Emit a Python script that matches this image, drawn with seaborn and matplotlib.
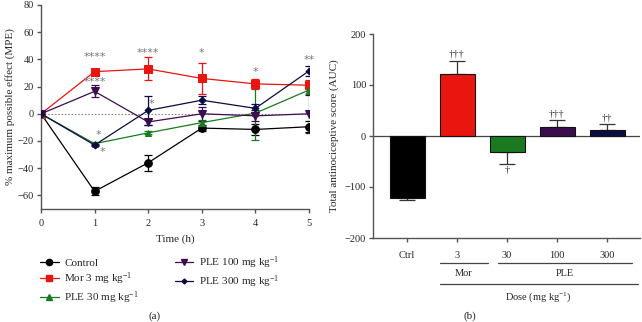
import matplotlib
matplotlib.use("Agg")
import matplotlib.pyplot as plt
import seaborn as sns
import numpy as np
import pandas as pd

sns.set_style("ticks")
plt.rcParams['font.family'] = ['Liberation Serif', 'DejaVu Serif']
plt.rcParams['mathtext.fontset'] = 'custom'
plt.rcParams['mathtext.rm'] = 'Liberation Serif'
plt.rcParams['mathtext.it'] = 'Liberation Serif:italic'

# ---- data panel (a) ----
time_h = [0, 1, 2, 3, 4, 5]
series_names = ["Control", "Mor 3 mg kg$^{-1}$", "PLE 30 mg kg$^{-1}$",
                "PLE 100 mg kg$^{-1}$", "PLE 300 mg kg$^{-1}$"]
control = [0, -57, -36, -10.5, -11.5, -9.5]
control_err = [0, 3, 6, 2.5, 4, 4]
mor = [0, 31, 33, 26, 22, 21]
mor_err = [0, 1.5, 8.5, 11.5, 3.5, 4]
ple30 = [0, -22, -14, -6.5, 0.5, 17.5]
ple30_err = [0, 1, 1, 2, 20, 3]
ple100 = [0, 16.5, -6, 0, -1.5, 0]
ple100_err = [0, 4.5, 2.5, 5, 4, 14]
ple300 = [0, -23, 2.5, 10, 4, 31.5]
ple300_err = [0, 1, 10.5, 3, 3, 4]

# significance labels (text, time, y)
sig_text = ["****", "****", "****", "*", "*", "**", "*", "*", "*"]
sig_x = [1.0, 1.0, 2.0, 3.0, 4.0, 5.0, 2.06, 1.07, 1.15]
sig_y = [41.5, 23.5, 45, 44.5, 30.5, 39.5, 7, -15.5, -28]

# ---- data panel (b) ----
groups = ["Ctrl", "3", "30", "100", "300"]
auc = [-122, 122, -31, 17, 11]
auc_err = [4, 26, 24, 15, 12]
dagger_text = ["", "†††", "†", "†††", "††"]

colors = ["#000000", "#e8160f", "#1b7a1f", "#3b0d4f", "#0c0c45"]
markers = ["o", "s", "^", "v", "D"]
msizes = [5.5, 5.5, 5, 5.5, 3.5]

fig = plt.figure(figsize=(6.42, 3.22), dpi=100)
W, H = 642, 322
axA = fig.add_axes([41 / W, 1 - 209 / H, (309 - 41) / W, (209 - 5) / H])
axB = fig.add_axes([373 / W, 1 - 238 / H, (640 - 373) / W, (238 - 34) / H])

spine_col = "#555555"
for ax in (axA, axB):
    for s in ("top", "right"):
        ax.spines[s].set_visible(False)
    for s in ("left", "bottom"):
        ax.spines[s].set_color(spine_col)
        ax.spines[s].set_linewidth(1.0)
    ax.tick_params(axis="both", direction="out", length=3, width=1.0,
                   color=spine_col, labelsize=7.5, pad=2)

# panel (a)
vals = [control, mor, ple30, ple100, ple300]
errs = [control_err, mor_err, ple30_err, ple100_err, ple300_err]
axA.axhline(0, color="#888888", lw=0.8, ls=(0, (1.5, 1.5)), zorder=0)
handles = []
for name, v, e, c, m, ms in zip(series_names, vals, errs, colors, markers, msizes):
    df = pd.DataFrame({"t": time_h, "v": v})
    axA.errorbar(time_h, v, yerr=e, fmt="none", ecolor=c, elinewidth=0.9,
                 capsize=3, capthick=0.9, zorder=2)
    sns.lineplot(data=df, x="t", y="v", ax=axA, color=c, marker=m,
                 markersize=ms, markeredgecolor=c, linewidth=0.9, zorder=3)
    handles.append(plt.Line2D([], [], color=c, marker=m, markersize=ms - 1,
                              markeredgecolor=c, lw=0.9, label=name))
for t, x, y in zip(sig_text, sig_x, sig_y):
    axA.text(x, y, t, ha="center", va="center", fontsize=8, color="#777777",
             family="DejaVu Sans")
axA.set_xlim(0, 5)
axA.set_ylim(-70, 80)
axA.set_xticks(time_h)
axA.set_yticks([-60, -40, -20, 0, 20, 40, 60, 80])
axA.tick_params(axis="x", pad=4)
axA.set_xlabel("Time (h)", fontsize=8, labelpad=5)
axA.set_ylabel("% maximum possible effect (MPE)", fontsize=8, labelpad=2)
axA.set_yticklabels(["\u221260", "\u221240", "\u221220", "0", "20", "40", "60", "80"])

fig.legend(handles=handles, ncol=2, loc="upper left",
           bbox_to_anchor=(40 / W, 1 - 254 / H), frameon=False, fontsize=8,
           handlelength=1.7, handletextpad=0.5, columnspacing=3.2,
           labelspacing=0.25, borderaxespad=0, borderpad=0)

# panel (b)
dfb = pd.DataFrame({"g": groups, "auc": auc})
sns.barplot(data=dfb, x="g", y="auc", hue="g", palette=colors, ax=axB,
            width=0.7, edgecolor="#111111", linewidth=0.8, legend=False,
            errorbar=None, saturation=1, zorder=2)
xs = np.arange(len(groups))
for x, v, e, c, d in zip(xs, auc, auc_err, colors, dagger_text):
    lo = [0 if v > 0 else e]
    hi = [e if v > 0 else 0]
    axB.errorbar([x], [v], yerr=[lo, hi], fmt="none", ecolor="#333333",
                 elinewidth=0.9, capsize=6, capthick=0.9, zorder=1)
    if d:
        if v > 0:
            axB.text(x, v + e + 3, d, ha="center", va="bottom", fontsize=7.5,
                     color="#333333")
        else:
            axB.text(x, v - e - 3, d, ha="center", va="top", fontsize=7.5,
                     color="#333333")
axB.axhline(0, color="#444444", lw=0.9, zorder=1)
axB.set_xlim(-0.68, 4.66)
axB.set_ylim(-200, 200)
axB.set_yticks([-200, -100, 0, 100, 200])
axB.set_yticklabels(["\u2212200", "\u2212100", "0", "100", "200"])
axB.set_xlabel("")
axB.set_ylabel("Total antinociceptive score (AUC)", fontsize=8, labelpad=4)
axB.tick_params(axis="x", pad=6)

# group lines under panel (b)
def fx(px):
    return px / W
def fy(py):
    return 1 - py / H
lc = "#444444"
fig.add_artist(plt.Line2D([fx(440), fx(488)], [fy(263), fy(263)], color=lc, lw=0.9))
fig.add_artist(plt.Line2D([fx(498), fx(632)], [fy(263), fy(263)], color=lc, lw=0.9))
fig.add_artist(plt.Line2D([fx(440), fx(638)], [fy(284), fy(284)], color=lc, lw=0.9))
fig.text(fx(464), fy(273), "Mor", ha="center", va="center", fontsize=7.5)
fig.text(fx(565), fy(273), "PLE", ha="center", va="center", fontsize=7.5)
fig.text(fx(538), fy(297), "Dose (mg kg$^{-1}$)", ha="center", va="center", fontsize=7.5)
fig.text(fx(155), fy(316), "(a)", ha="center", va="center", fontsize=8)
fig.text(fx(470), fy(316), "(b)", ha="center", va="center", fontsize=8)

fig.savefig("out.png", dpi=100)
